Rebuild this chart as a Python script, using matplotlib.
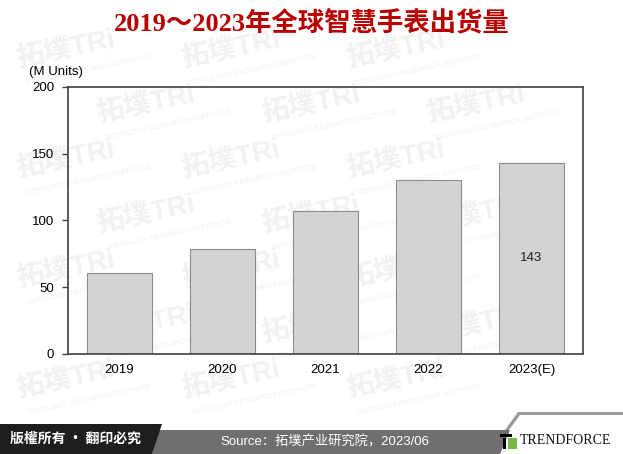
import matplotlib
matplotlib.use("Agg")
from matplotlib import pyplot as plt
from matplotlib.patches import Polygon, Rectangle

# data
years = ['2019', '2020', '2021', '2022', '2023(E)']
shipments = [61, 79, 107, 130, 143]
yticks = [0, 50, 100, 150, 200]

plt.rcParams['font.family'] = ['Liberation Sans', 'Noto Sans CJK SC', 'DejaVu Sans']

fig = plt.figure(figsize=(6.23, 4.54), dpi=100)
W, H = 623, 454

def px(x, y):
    return x / W, 1 - y / H

# faint watermark in the background, kept inside the picture
for row in range(7):
    for col in range(4):
        x0 = 15 + col * 165 + (row % 2) * 80
        y0 = 50 + row * 55
        if x0 + 120 > W or y0 > 400:
            continue
        fx, fy = px(x0, y0)
        fig.text(fx, fy, '拓墣TRi', fontsize=20, color='#f4f1f1', rotation=12,
                 ha='left', va='center', zorder=0, fontweight='bold')
        fx, fy = px(x0 + 10, y0 + 20)
        fig.text(fx, fy, 'TOPOLOGY RESEARCH INSTITUTE', fontsize=5.5, color='#f2f0f0',
                 rotation=12, ha='left', va='center', zorder=0)

# title
tx, ty = px(312, 24)
fig.text(tx, ty, '2019～2023年全球智慧手表出货量', fontsize=19, color='#B80000',
         fontweight='bold', ha='center', va='center',
         family=['Liberation Serif', 'Noto Sans CJK SC'])

ax = fig.add_axes([68 / W, 1 - 354 / H, (583 - 68) / W, (354 - 87) / H])
ax.set_facecolor('none')
ax.set_zorder(2)

x = range(len(years))
ax.bar(x, shipments, width=0.63, color='#D3D3D3', edgecolor='#8c8c8c', linewidth=0.8)
ax.text(4, 72, '143', ha='center', va='center', fontsize=9.5, color='#222222')

ax.set_xlim(-0.5, 4.5)
ax.set_ylim(0, 200)
ax.set_yticks(yticks)
ax.set_xticks(list(x))
ax.set_xticklabels(years, fontsize=9.5)
ax.tick_params(axis='x', length=0, pad=7)
ax.tick_params(axis='y', length=4, width=1, color='#404040', labelsize=9.5, pad=6)
for s in ax.spines.values():
    s.set_color('#404040')
    s.set_linewidth(1.2)

ux, uy = px(56, 72)
fig.text(ux, uy, '(M Units)', fontsize=9.5, ha='center', va='center')

# footer
fig.patches.append(Polygon([(0, 1 - 424 / H), (162 / W, 1 - 424 / H),
                            (152 / W, 0), (0, 0)], closed=True,
                           transform=fig.transFigure, facecolor='#1e1e1e',
                           edgecolor='none', zorder=3))
fig.patches.append(Polygon([(158 / W, 1 - 430 / H), (510 / W, 1 - 430 / H),
                            (500 / W, 0), (152 / W, 0)], closed=True,
                           transform=fig.transFigure, facecolor='#6f6f6f',
                           edgecolor='none', zorder=2))
fig.patches.append(Polygon([(505 / W, 1 - 430 / H), (518 / W, 1 - 412 / H),
                            (1, 1 - 412 / H), (1, 1 - 415 / H),
                            (520 / W, 1 - 415 / H), (509 / W, 1 - 430 / H)],
                           closed=True, transform=fig.transFigure,
                           facecolor='#9a9a9a', edgecolor='none', zorder=2))
fig.patches.append(Rectangle((509 / W, 0), 1 - 509 / W, 1 - 415 / H - 0.001,
                             transform=fig.transFigure, facecolor='white',
                             edgecolor='none', zorder=1.5))

fx, fy = px(10, 439)
fig.text(fx, fy, '版權所有 · 翻印必究', fontsize=10, color='white', fontweight='bold',
         ha='left', va='center', zorder=4, family=['Noto Sans CJK TC'])
fx, fy = px(325, 442)
fig.text(fx, fy, 'Source：拓墣产业研究院，2023/06', fontsize=9.5, color='white',
         ha='center', va='center', zorder=4)

# logo
fig.patches.append(Rectangle((500 / W, 1 - 437 / H), 12 / W, 3 / H,
                             transform=fig.transFigure, facecolor='black', zorder=4))
fig.patches.append(Rectangle((503 / W, 1 - 449 / H), 3 / W, 11 / H,
                             transform=fig.transFigure, facecolor='black', zorder=4))
fig.patches.append(Rectangle((508 / W, 1 - 449 / H), 9 / W, 11 / H,
                             transform=fig.transFigure, facecolor='#7ab648', zorder=4))
lx, ly = px(520, 441)
fig.text(lx, ly, 'TRENDFORCE', fontsize=10, color='#111111', ha='left', va='center',
         family=['Liberation Serif'], zorder=4)

fig.savefig('out.png', dpi=100)
